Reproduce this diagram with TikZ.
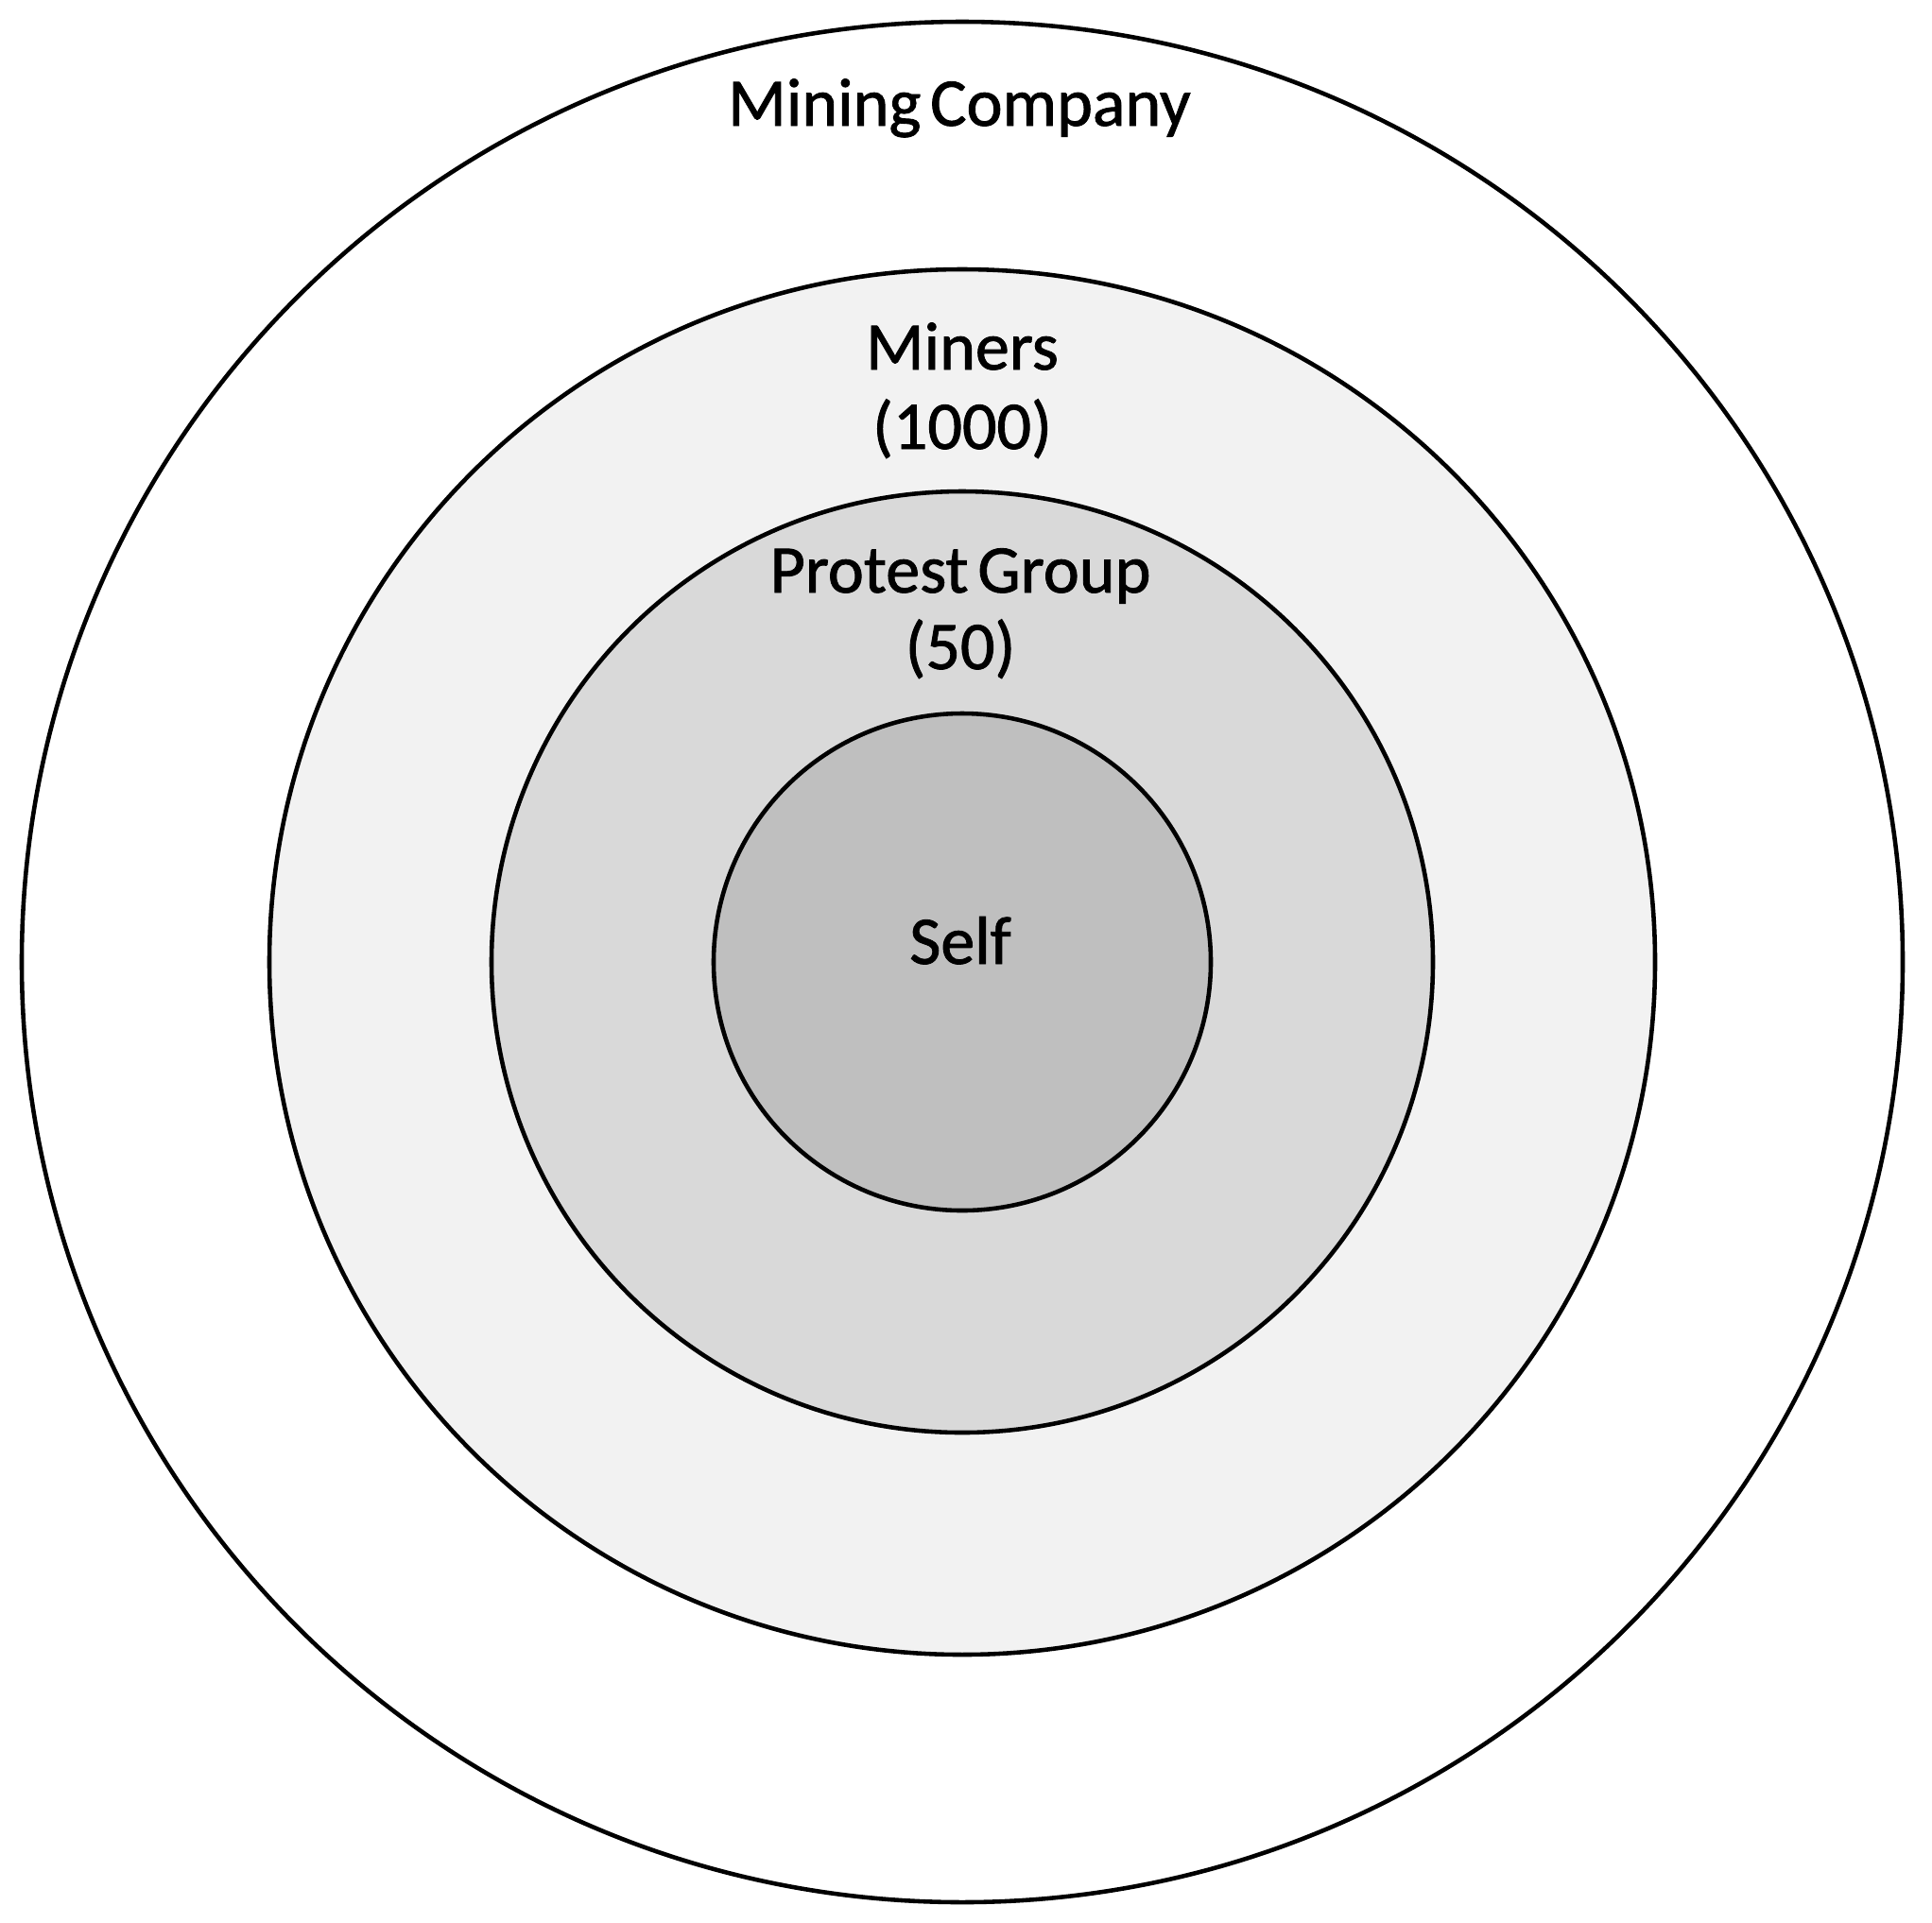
\documentclass[tikz,border=0pt]{standalone}
\usepackage{fontspec}
\setmainfont{Carlito}[FakeBold=1.2, WordSpace=0.6]
\definecolor{ringA}{HTML}{F2F2F2}
\definecolor{ringB}{HTML}{D9D9D9}
\definecolor{ringC}{HTML}{BFBFBF}
\tikzset{
    ring/.style={circle, draw=black, line width=1.3pt, inner sep=0pt, minimum size=#1},
    lbl/.style={anchor=base, inner sep=0pt, font=\fontsize{20.5}{24}\selectfont}
}

\begin{document}
\begin{tikzpicture}
    \useasboundingbox (0,0) rectangle (20.44,-20.34);
    \coordinate (O) at (10.18,-10.18);
    \node[ring=19.90cm, fill=white] (company) at (O) {};
    \node[ring=14.66cm, fill=ringA] (miners) at (O) {};
    \node[ring=9.96cm, fill=ringB] (protest) at (O) {};
    \node[ring=5.26cm, fill=ringC] (self) at (O) {};
    \node[lbl] (tcompany) at (10.15,-1.33) {Mining Company};
    \node[lbl] (tminers) at (10.18,-3.91) {Miners};
    \node[lbl] (nminers) at (10.18,-4.75) {(1000)};
    \node[lbl] (tprotest) at (10.16,-6.27) {Protest Group};
    \node[lbl] (nprotest) at (10.16,-7.08) {(50)};
    \node[lbl] (tself) at (10.16,-10.20) {Self};
\end{tikzpicture}
\end{document}
